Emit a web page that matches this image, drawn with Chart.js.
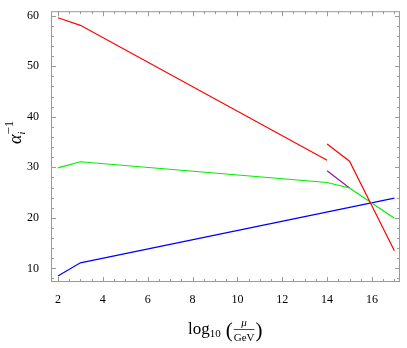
<!DOCTYPE html>
<html>
<head>
<meta charset="utf-8">
<script src="https://cdn.jsdelivr.net/npm/chart.js@4/dist/chart.umd.min.js"></script>
<style>
  html, body { margin: 0; padding: 0; background: #fff; }
  #wrap { width: 407px; height: 348px; position: relative; }
</style>
</head>
<body>
<div id="wrap"><canvas id="c"></canvas></div>
<script>
// ── Data ──
const xTicks = [2, 4, 6, 8, 10, 12, 14, 16];
const yTicks = [10, 20, 30, 40, 50, 60];

const redLowX   = [2, 3, 14];
const redLowY   = [59.6, 58.1, 31.4];
const redHighX  = [14, 15, 17];
const redHighY  = [34.6, 31.2, 13.5];
const greenX    = [2, 3, 14, 15, 17];
const greenY    = [29.9, 31.1, 27.0, 25.9, 19.9];
const purpleX   = [14, 15];
const purpleY   = [29.3, 25.9];
const blueX     = [2, 3, 17];
const blueY     = [8.5, 11.1, 23.9];

const SERIF = '"Liberation Serif", "DejaVu Serif", serif';
const FRAME = '#9a9a9a';

function pts(xs, ys) { return xs.map((x, i) => ({ x, y: ys[i] })); }

function line(data, color) {
    return {
        data,
        borderColor: color,
        borderWidth: 1.2,
        pointRadius: 0,
        fill: false,
        tension: 0
    };
}

// Mathematica-style frame: ticks inside on all four sides + axis titles
const framePlugin = {
    id: 'frame',
    afterDraw(chart) {
        const { ctx, chartArea: a, scales: { x, y } } = chart;
        ctx.save();
        ctx.strokeStyle = FRAME;
        ctx.lineWidth = 1;
        ctx.strokeRect(a.left + 0.5, a.top + 0.5, a.right - a.left - 1, a.bottom - a.top - 1);

        ctx.beginPath();
        for (let v = 2; v <= 17; v += 0.5) {
            const px = Math.round(x.getPixelForValue(v)) + 0.5;
            const len = (v % 2 === 0) ? 5 : 3;
            ctx.moveTo(px, a.bottom); ctx.lineTo(px, a.bottom - len);
            ctx.moveTo(px, a.top);    ctx.lineTo(px, a.top + len);
        }
        for (let v = 8; v <= 60; v += 2) {
            const py = Math.round(y.getPixelForValue(v)) + 0.5;
            const len = (v % 10 === 0) ? 5 : 3;
            ctx.moveTo(a.left, py);  ctx.lineTo(a.left + len, py);
            ctx.moveTo(a.right, py); ctx.lineTo(a.right - len, py);
        }
        ctx.stroke();

        // x title: log10 ( μ / GeV )
        ctx.fillStyle = '#000';
        ctx.strokeStyle = '#000';
        ctx.textBaseline = 'alphabetic';
        let cx = 188, base = 334;
        ctx.font = '17px ' + SERIF;
        ctx.fillText('log', cx, base); cx += ctx.measureText('log').width;
        ctx.font = '11px ' + SERIF;
        ctx.fillText('10', cx, base + 3); cx += ctx.measureText('10').width + 5;
        ctx.font = '21px ' + SERIF;
        ctx.fillText('(', cx, base + 3); cx += ctx.measureText('(').width + 1;
        ctx.font = '11px ' + SERIF;
        const gw = ctx.measureText('GeV').width;
        ctx.textAlign = 'center';
        ctx.font = 'italic 11px ' + SERIF;
        ctx.fillText('μ', cx + gw / 2, base - 8);
        ctx.font = '11px ' + SERIF;
        ctx.fillText('GeV', cx + gw / 2, base + 7);
        ctx.beginPath();
        ctx.lineWidth = 0.7;
        ctx.moveTo(cx, base - 4.5); ctx.lineTo(cx + gw, base - 4.5);
        ctx.stroke();
        cx += gw + 1;
        ctx.textAlign = 'left';
        ctx.font = '21px ' + SERIF;
        ctx.fillText(')', cx, base + 3);

        // y title: α_i^-1 rotated
        ctx.translate(21, 130);
        ctx.rotate(-Math.PI / 2);
        ctx.textAlign = 'left';
        ctx.font = 'italic 18px ' + SERIF;
        ctx.fillText('α', -14, 0);
        const aw = ctx.measureText('α').width;
        ctx.font = 'italic 10px ' + SERIF;
        ctx.fillText('i', -14 + aw, 4);
        ctx.font = '13px ' + SERIF;
        ctx.fillText('−1', -14 + aw, -8);
        ctx.restore();
    }
};

new Chart(document.getElementById('c'), {
    type: 'line',
    data: {
        datasets: [
            line(pts(redLowX, redLowY), '#ff0000'),
            line(pts(redHighX, redHighY), '#ff0000'),
            line(pts(greenX, greenY), '#00ee00'),
            line(pts(purpleX, purpleY), '#8a1a9a'),
            line(pts(blueX, blueY), '#0000ff')
        ]
    },
    plugins: [framePlugin],
    options: {
        responsive: true,
        maintainAspectRatio: false,
        animation: false,
        layout: { padding: { top: 5, right: 7, left: 0, bottom: 0 } },
        plugins: { legend: { display: false }, tooltip: { enabled: false } },
        scales: {
            x: {
                type: 'linear',
                min: 1.69, max: 17.25,
                afterBuildTicks: s => { s.ticks = xTicks.map(v => ({ value: v })); },
                afterFit: s => { s.height = 66; },
                grid: { display: false },
                border: { display: false },
                ticks: { color: '#000', padding: 3, maxRotation: 0, font: { family: SERIF, size: 12 } }
            },
            y: {
                type: 'linear',
                min: 7.3, max: 60.9,
                afterBuildTicks: s => { s.ticks = yTicks.map(v => ({ value: v })); },
                afterFit: s => { s.width = 51; },
                grid: { display: false },
                border: { display: false },
                ticks: { color: '#000', padding: 4, font: { family: SERIF, size: 12 } }
            }
        }
    }
});
</script>
</body>
</html>
